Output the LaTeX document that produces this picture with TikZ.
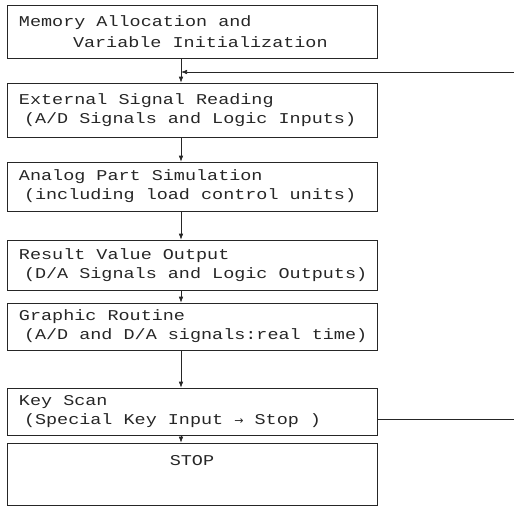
\documentclass[tikz,border=0pt]{standalone}
\usepackage{fontspec}
\setmonofont[FakeStretch=1.23]{Liberation Mono}
\newfontfamily\arrowfont{DejaVu Sans}
\newcommand{\tw}[1]{\ttfamily\fontsize{15}{#1}\selectfont}
\newcommand{\gap}{\kern11.07pt\relax}
\usetikzlibrary{arrows.meta}
\begin{document}
\begin{tikzpicture}[x=1pt,y=-1pt,
  flowbox/.style={draw=black!85, line width=0.6pt, minimum width=370pt, inner xsep=12pt,
    text width=346pt, align=left, text=black!85, font=\tw{19}},
  conn/.style={draw=black!85, line width=0.6pt, -{Latex[length=6pt,width=4.5pt]}},
  plain/.style={draw=black!85, line width=0.6pt}]
\useasboundingbox (0,0) rectangle (514,507);
\node[flowbox, minimum height=53pt, font=\tw{21}] (b1) at (192,31.5) {Memory\gap Allocation\gap and\\\hspace*{54pt}Variable\gap Initialization};
\node[flowbox, minimum height=54pt] (b2) at (192,110) {External\gap Signal\gap Reading\\\hspace*{5pt}(A/D\gap Signals\gap and\gap Logic\gap Inputs)};
\node[flowbox, minimum height=49pt] (b3) at (192,186.5) {Analog\gap Part\gap Simulation\\\hspace*{5pt}(including\gap load\gap control\gap units)};
\node[flowbox, minimum height=50pt] (b4) at (192,265) {Result\gap Value\gap Output\\\hspace*{5pt}(D/A\gap Signals\gap and\gap Logic\gap Outputs)};
\node[flowbox, minimum height=47pt] (b5) at (192,326.5) {Graphic\gap Routine\\\hspace*{5pt}(A/D\gap and\gap D/A\gap signals:real\gap time)};
\node[flowbox, minimum height=47pt] (b6) at (192,411.5) {Key\gap Scan\\\hspace*{5pt}(Special\gap Key\gap Input\gap{\arrowfont\fontsize{11}{14}\selectfont →}\gap Stop\gap)};
\node[flowbox, minimum height=62pt] (b7) at (192,474) {};
\node[text=black!85, font=\tw{19}] (stop) at (192,461) {STOP};
\coordinate (j) at (181,72);
\coordinate (loopin) at (514,72);
\coordinate (loopout) at (514,419);
\draw[conn] (b1.south -| j) -- (b2.north -| j);
\draw[conn] (loopin) -- (j);
\draw[conn] (b2.south -| j) -- (b3.north -| j);
\draw[conn] (b3.south -| j) -- (b4.north -| j);
\draw[conn] (b4.south -| j) -- (b5.north -| j);
\draw[conn] (b5.south -| j) -- (b6.north -| j);
\draw[conn] (b6.south -| j) -- (b7.north -| j);
\draw[plain] (b6.east |- loopout) -- (loopout);
\end{tikzpicture}
\end{document}
